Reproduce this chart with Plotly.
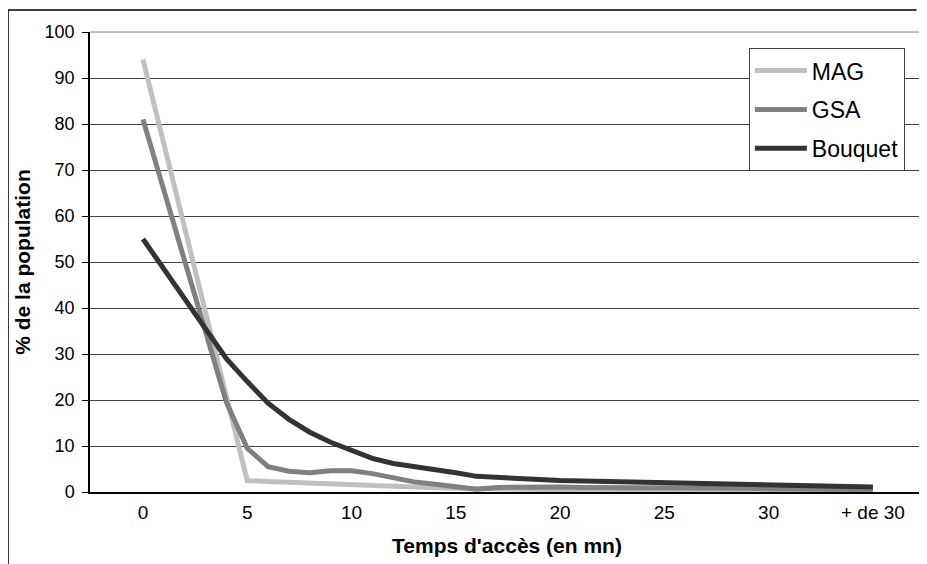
import plotly.graph_objects as go

# minutes 0..35 ; 35 is the "+ de 30" class
minutes = list(range(36))
tick_vals = [0, 5, 10, 15, 20, 25, 30, 35]
tick_text = ["0", "5", "10", "15", "20", "25", "30", "+ de 30"]

mag = [94, None, None, None, None, 2.5, 2.3, 2.1, 2.0, 1.8,
       1.6, 1.4, 1.2, 1.0, 0.9, 0.8, 0.7, 0.6, 0.6, 0.5,
       0.5, 0.5, 0.5, 0.4, 0.4, 0.4, 0.4, 0.4, 0.3, 0.3,
       0.3, None, None, None, None, 0.3]
gsa = [81, None, None, None, 19.5, 9.5, 5.5, 4.5, 4.2, 4.6,
       4.6, 4.0, 3.0, 2.2, 1.7, 1.1, 0.6, 1.0, 1.1, 1.1,
       1.1, 1.0, 1.0, 1.0, 0.9, 0.9, 0.9, 0.8, 0.8, 0.8,
       0.7, None, None, None, None, 0.5]
bouquet = [55, 48.5, 42, 35.5, 29, 24, 19.3, 15.8, 13, 10.8,
           9, 7.3, 6.2, 5.6, 5.0, 4.2, 3.4, 3.1, 2.9, 2.7,
           2.5, 2.4, 2.3, 2.2, 2.1, 2.1, 2.1, 2.0, 1.9, 1.8,
           1.6, None, None, None, None, 1.1]

series = [("MAG", mag, "#c0c0c0"), ("GSA", gsa, "#808080"), ("Bouquet", bouquet, "#333333")]

fig = go.Figure()
for name, vals, col in series:
    fig.add_trace(go.Scatter(x=minutes, y=vals, name=name, mode="lines", connectgaps=True,
                             legendgroup=name,
                             line=dict(color=col, width=5)))

font = "Liberation Sans, Arial, sans-serif"
# page body has an 8px margin, so the figure is 8px smaller than the window
fig.update_layout(
    width=919, height=556,
    margin=dict(l=82, r=3, t=24, b=72),
    paper_bgcolor="white", plot_bgcolor="white",
    font=dict(family=font, size=18, color="black"),
    showlegend=True,
    legend=dict(x=0.79, y=0.965, xanchor="left", yanchor="top",
                bgcolor="white", bordercolor="#404040", borderwidth=1,
                font=dict(size=23), tracegroupgap=6, itemwidth=52),
    xaxis=dict(range=[-2.54, 37.45], tickvals=tick_vals, ticktext=tick_text,
               tickfont=dict(size=19),
               showgrid=False, zeroline=False, showline=True, linecolor="black",
               linewidth=1.5, ticks="", ticklabelstandoff=2,
               title=dict(text="<b>Temps d'accès (en mn)</b>", font=dict(size=21), standoff=17)),
    yaxis=dict(range=[0, 100], dtick=10, showgrid=True, gridcolor="#404040", gridwidth=1,
               zeroline=False, showline=True, linecolor="black", linewidth=1.5,
               ticks="outside", ticklen=6, tickcolor="black", ticklabelstandoff=4,
               title=dict(text="<b>% de la population</b>", font=dict(size=21), standoff=8)),
    shapes=[
        # plot area frame (top and right)
        dict(type="line", xref="paper", yref="paper", x0=0, x1=1, y0=1, y1=1,
             line=dict(color="#808080", width=1)),
        dict(type="line", xref="paper", yref="paper", x0=1, x1=1, y0=0, y1=1,
             line=dict(color="#808080", width=1)),
        # outer chart frame
        dict(type="line", xref="paper", yref="paper", x0=-0.0983, x1=-0.0983, y0=-0.16, y1=1.048,
             line=dict(color="black", width=1.5)),
        dict(type="line", xref="paper", yref="paper", x0=-0.0983, x1=0.991, y0=1.048, y1=1.048,
             line=dict(color="black", width=1.5)),
    ],
)

fig.write_html("out.html")
